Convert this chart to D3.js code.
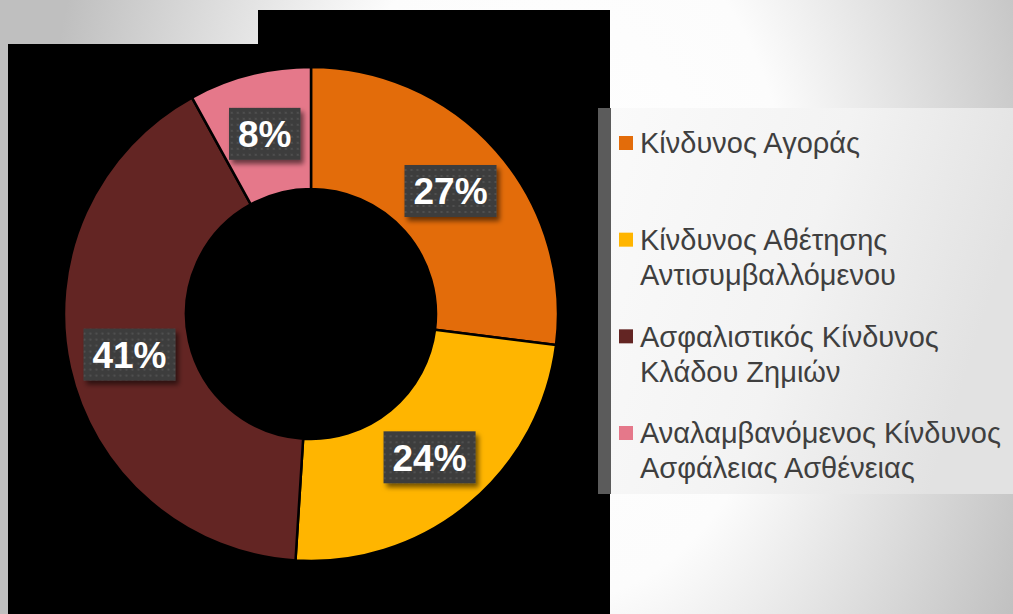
<!DOCTYPE html>
<html>
<head>
<meta charset="utf-8">
<script src="https://cdn.jsdelivr.net/npm/d3@7"></script>
<style>
  html, body { margin: 0; padding: 0; overflow: hidden; }
  svg { display: block; }
</style>
</head>
<body>
<div id="chart"></div>
<script>
// chart data
const categories = [
  "Κίνδυνος Αγοράς",
  "Κίνδυνος Αθέτησης Αντισυμβαλλόμενου",
  "Ασφαλιστικός Κίνδυνος Κλάδου Ζημιών",
  "Αναλαμβανόμενος Κίνδυνος Ασφάλειας Ασθένειας"
];
const legendLines = [
  ["Κίνδυνος Αγοράς"],
  ["Κίνδυνος Αθέτησης", "Αντισυμβαλλόμενου"],
  ["Ασφαλιστικός Κίνδυνος", "Κλάδου Ζημιών"],
  ["Αναλαμβανόμενος Κίνδυνος", "Ασφάλειας Ασθένειας"]
];
const values = [27, 24, 41, 8];
const colors = ["#E36C0A", "#FFB500", "#632523", "#E5788A"];

const width = 1013;
const height = 614;

const svg = d3.select("#chart").append("svg")
  .attr("width", width)
  .attr("height", height);

const defs = svg.append("defs");

// slide background
const bg = defs.append("radialGradient")
  .attr("id", "bg")
  .attr("gradientUnits", "userSpaceOnUse")
  .attr("cx", 560).attr("cy", 250).attr("r", 520)
  .attr("gradientTransform", "translate(560,250) scale(1,1.5) translate(-560,-250)");
bg.append("stop").attr("offset", 0).attr("stop-color", "#ffffff");
bg.append("stop").attr("offset", 0.45).attr("stop-color", "#fcfcfc");
bg.append("stop").attr("offset", 1).attr("stop-color", "#bfbfbf");

const lg = defs.append("linearGradient").attr("id", "lg")
  .attr("x1", 0).attr("y1", 0).attr("x2", 1).attr("y2", 0.3);
lg.append("stop").attr("offset", 0).attr("stop-color", "#fafafa");
lg.append("stop").attr("offset", 0.55).attr("stop-color", "#f3f3f3");
lg.append("stop").attr("offset", 1).attr("stop-color", "#e2e2e2");

// dotted fill for value labels
const pat = defs.append("pattern")
  .attr("id", "dots")
  .attr("patternUnits", "userSpaceOnUse")
  .attr("width", 6).attr("height", 6);
pat.append("rect").attr("width", 6).attr("height", 6).attr("fill", "#3e3e3e");
pat.append("circle").attr("cx", 3).attr("cy", 3).attr("r", 1.1).attr("fill", "#535353");

const shadow = defs.append("filter").attr("id", "shadow")
  .attr("x", "-20%").attr("y", "-20%").attr("width", "150%").attr("height", "160%");
shadow.append("feDropShadow")
  .attr("dx", 3).attr("dy", 4).attr("stdDeviation", 2.5)
  .attr("flood-color", "#000").attr("flood-opacity", 0.55);

svg.append("rect")
  .attr("width", width).attr("height", height)
  .attr("fill", "url(#bg)");

// black plot area
svg.append("path")
  .attr("d", "M8,44 H258 V10 H610 V614 H8 Z")
  .attr("fill", "#000");

// donut
const cx = 311, cy = 314;
const outerR = 247, innerR = 125;

const pie = d3.pie().sort(null).value(d => d)(values);
const arc = d3.arc().innerRadius(innerR).outerRadius(outerR);

const g = svg.append("g").attr("transform", `translate(${cx},${cy})`);

g.selectAll("path.slice")
  .data(pie)
  .join("path")
  .attr("class", "slice")
  .attr("d", arc)
  .attr("fill", (d, i) => colors[i])
  .attr("stroke", "#000")
  .attr("stroke-width", 2.5)
  .attr("stroke-linejoin", "round");

const labels = g.selectAll("g.lbl")
  .data(pie)
  .join("g")
  .attr("class", "lbl")
  .attr("transform", d => `translate(${arc.centroid(d)})`);

labels.append("text")
  .attr("text-anchor", "middle")
  .attr("dy", "0.36em")
  .style("font-family", "'Liberation Sans', Arial, sans-serif")
  .style("font-weight", "bold")
  .style("font-size", "37px")
  .style("fill", "#fff")
  .text(d => d.data + "%");

labels.each(function () {
  const grp = d3.select(this);
  const tw = grp.select("text").node().getComputedTextLength();
  const w = tw + 18, h = 52;
  grp.insert("rect", "text")
    .attr("x", -w / 2).attr("y", -h / 2)
    .attr("width", w).attr("height", h)
    .attr("fill", "url(#dots)")
    .attr("filter", "url(#shadow)");
});

// legend panel
svg.append("rect")
  .attr("x", 598).attr("y", 108)
  .attr("width", width - 598).attr("height", 386)
  .attr("fill", "#5b5b5b");
svg.append("rect")
  .attr("x", 611).attr("y", 108)
  .attr("width", width - 611).attr("height", 386)
  .attr("fill", "url(#lg)");

const ly = d3.scalePoint()
  .domain(categories)
  .range([143, 433]);

const items = svg.selectAll("g.leg")
  .data(categories)
  .join("g")
  .attr("class", "leg")
  .attr("transform", d => `translate(619,${ly(d)})`);

items.append("rect")
  .attr("x", 0).attr("y", -7)
  .attr("width", 14).attr("height", 14)
  .attr("fill", (d, i) => colors[i]);

items.append("text")
  .attr("x", 21)
  .style("font-family", "'Liberation Sans', Arial, sans-serif")
  .style("font-size", "29px")
  .style("fill", "#3f3f3f")
  .selectAll("tspan")
  .data((d, i) => legendLines[i])
  .join("tspan")
  .attr("x", 21)
  .attr("y", (d, j) => j * 35)
  .attr("dy", "0.36em")
  .text(d => d);
</script>
</body>
</html>
